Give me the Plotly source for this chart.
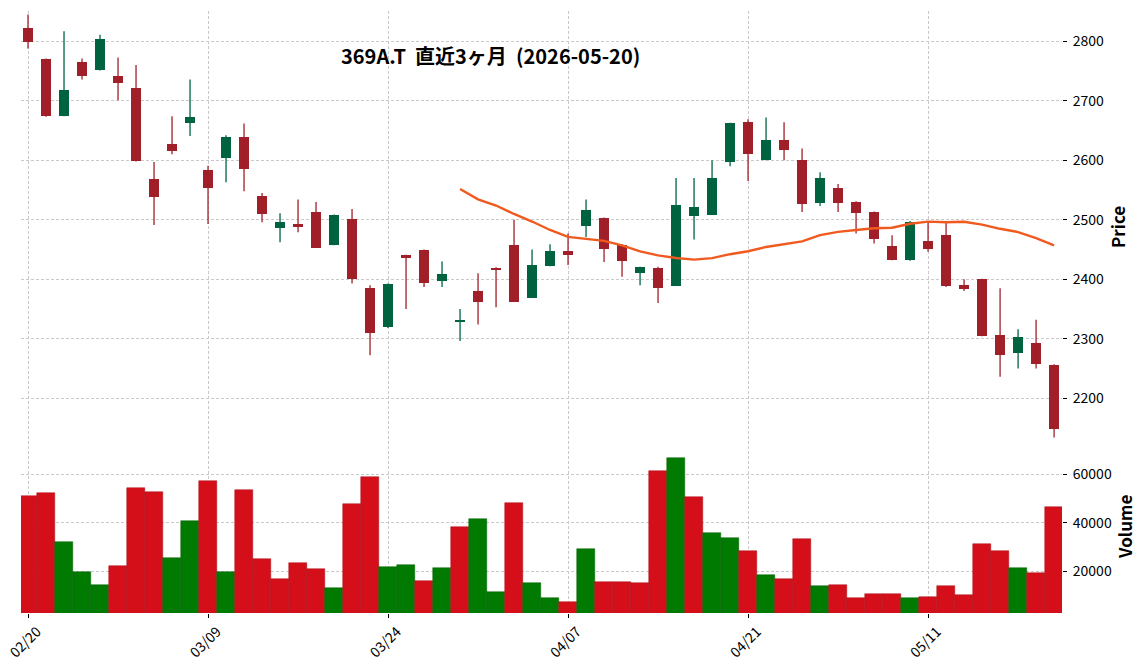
import plotly.graph_objects as go
import pandas as pd

dates = ["2026-02-20","2026-02-24","2026-02-25","2026-02-26","2026-02-27","2026-03-02","2026-03-03",
         "2026-03-04","2026-03-05","2026-03-06","2026-03-09","2026-03-10","2026-03-11","2026-03-12",
         "2026-03-13","2026-03-16","2026-03-17","2026-03-18","2026-03-19","2026-03-23","2026-03-24",
         "2026-03-25","2026-03-26","2026-03-27","2026-03-30","2026-03-31","2026-04-01","2026-04-02",
         "2026-04-03","2026-04-06","2026-04-07","2026-04-08","2026-04-09","2026-04-10","2026-04-13",
         "2026-04-14","2026-04-15","2026-04-16","2026-04-17","2026-04-20","2026-04-21","2026-04-22",
         "2026-04-23","2026-04-24","2026-04-27","2026-04-28","2026-04-30","2026-05-01","2026-05-07",
         "2026-05-08","2026-05-11","2026-05-12","2026-05-13","2026-05-14","2026-05-15","2026-05-18",
         "2026-05-19","2026-05-20"]

opens  = [2822,2770,2675,2765,2752,2742,2722,2569,2627,2663,2584,2604,2639,2540,2486,2493,2513,2458,
          2501,2385,2319,2440,2449,2397,2329,2380,2419,2458,2369,2423,2448,2490,2503,2458,2411,2419,
          2389,2507,2508,2597,2664,2600,2634,2600,2529,2553,2530,2513,2456,2432,2465,2474,2390,2400,
          2306,2276,2293,2256]
highs  = [2845,2771,2817,2771,2811,2773,2760,2597,2674,2736,2591,2642,2662,2545,2511,2534,2530,2509,
          2518,2390,2393,2441,2450,2430,2350,2410,2420,2500,2450,2459,2477,2534,2504,2459,2421,2421,
          2570,2570,2600,2663,2669,2672,2664,2620,2580,2560,2531,2514,2474,2498,2498,2497,2400,2401,
          2385,2316,2332,2257]
lows   = [2788,2673,2674,2736,2751,2701,2598,2491,2610,2641,2493,2563,2548,2496,2462,2479,2453,2457,
          2393,2272,2318,2350,2387,2387,2296,2324,2353,2362,2369,2422,2424,2471,2429,2404,2390,2360,
          2389,2467,2508,2590,2565,2600,2600,2513,2523,2513,2477,2460,2432,2431,2446,2387,2380,2304,
          2236,2250,2250,2134]
closes = [2799,2675,2718,2741,2804,2730,2599,2539,2616,2673,2554,2639,2586,2510,2496,2487,2453,2508,
          2401,2309,2392,2435,2393,2409,2329,2362,2416,2362,2424,2448,2440,2517,2451,2430,2421,2386,
          2525,2521,2570,2663,2611,2634,2618,2526,2570,2529,2512,2467,2432,2496,2451,2389,2383,2305,
          2273,2303,2258,2148]
volumes = [50960,52190,32050,19710,14370,22180,54250,52600,25470,40680,57120,19710,53420,25060,16840,
           23410,20950,13140,47670,58770,21770,22590,16010,21360,38210,41500,11490,48080,15190,9030,
           7380,29170,15600,15600,15190,61230,66580,50550,35750,33690,28350,18480,16840,33280,13960,
           14370,9030,10670,10670,9030,9440,13960,10260,31100,28220,21360,19300,46430]

title_text = "369A.T\u00a0\u00a0直近3ヶ月\u00a0\u00a0(2026-05-20)"
ma_window = 25

UP_C, DOWN_C = "#006340", "#A01F29"
VUP_C, VDOWN_C = "#017A01", "#D40F1A"
MA_C = "#F15A1F"
GRID_C = "#c9c9c9"
FONT = "Noto Sans CJK JP"

n = len(dates)
idx = list(range(n))
tick_pos = idx[::10]
tick_txt = [d[5:7] + "/" + d[8:10] for d in dates[::10]]

fig = go.Figure()

# wicks
for is_up, col in [(True, UP_C), (False, DOWN_C)]:
    wx, wy = [], []
    for i in idx:
        if (closes[i] >= opens[i]) == is_up:
            wx += [i, i, None]
            wy += [lows[i], highs[i], None]
    fig.add_trace(go.Scatter(x=wx, y=wy, mode="lines", line=dict(color=col, width=1.3),
                             xaxis="x", yaxis="y", showlegend=False, hoverinfo="skip"))

# bodies
body_base = [min(o, c) for o, c in zip(opens, closes)]
body_h = [max(abs(c - o), 1.6) for o, c in zip(opens, closes)]
body_col = [UP_C if c >= o else DOWN_C for o, c in zip(opens, closes)]
body_base = [b - (0.8 if abs(c - o) < 1.6 else 0) for b, o, c in zip(body_base, opens, closes)]
fig.add_trace(go.Bar(x=idx, y=body_h, base=body_base, width=0.6,
                     marker=dict(color=body_col, line=dict(width=0)),
                     xaxis="x", yaxis="y", showlegend=False))

# moving average
ma = pd.Series(closes).rolling(ma_window).mean()
fig.add_trace(go.Scatter(x=idx, y=ma, mode="lines", line=dict(color=MA_C, width=2.4),
                         xaxis="x", yaxis="y", showlegend=False, connectgaps=False))

# volume
vcol = [VDOWN_C] + [VUP_C if closes[i] >= closes[i - 1] else VDOWN_C for i in range(1, n)]
vedge = ["#A80C15" if c == VDOWN_C else "#015E01" for c in vcol]
fig.add_trace(go.Bar(x=idx, y=volumes, width=1.0,
                     marker=dict(color=vcol, line=dict(color=vedge, width=0.5)),
                     xaxis="x2", yaxis="y2", showlegend=False))

grid = dict(showgrid=True, gridcolor=GRID_C, gridwidth=0.8, griddash="3px,2px",
            zeroline=False, showline=False, automargin=False)
tickfont = dict(family=FONT, size=14, color="#000")

xr = [-0.39, 57.44]
fig.update_layout(
    width=1144, height=670,
    margin=dict(l=21, r=82, t=11, b=57),
    paper_bgcolor="white", plot_bgcolor="white",
    barmode="overlay", bargap=0,
    font=dict(family=FONT, color="#000"),
    xaxis=dict(domain=[0, 1], anchor="y", range=xr, tickvals=tick_pos, ticktext=tick_txt,
               showticklabels=False, ticks="", **grid),
    yaxis=dict(domain=[2/7, 1], anchor="x", side="right", range=[2128, 2851],
               tickvals=[2200, 2300, 2400, 2500, 2600, 2700, 2800],
               ticks="outside", ticklen=4, tickwidth=1.3, tickcolor="#000",
               ticklabelstandoff=3, tickfont=tickfont, **grid),
    xaxis2=dict(domain=[0, 1], anchor="y2", range=xr, matches="x",
                tickvals=tick_pos, ticktext=tick_txt, tickangle=-45,
                ticks="outside", ticklen=4, tickwidth=1.3, tickcolor="#000",
                ticklabelshift=9, tickfont=tickfont, **grid),
    yaxis2=dict(domain=[0, 2/7], anchor="x2", side="right", range=[2980, 73560],
                tickvals=[20000, 40000, 60000], tickformat="d",
                ticks="outside", ticklen=4, tickwidth=1.3, tickcolor="#000",
                ticklabelstandoff=3, tickfont=tickfont, **grid),
    annotations=[
        dict(text=title_text, x=(490 - 21) / 1041, y=(613 - 55) / 602, xref="paper", yref="paper",
             xanchor="center", yanchor="middle", showarrow=False,
             font=dict(family=FONT, size=20, color="#000", weight="bold")),
        dict(text="Price", x=(1117 - 21) / 1041, y=(613 - 227) / 602, xref="paper", yref="paper",
             xanchor="center", yanchor="middle", textangle=-90, showarrow=False,
             font=dict(family=FONT, size=17, color="#000", weight="bold")),
        dict(text="Volume", x=(1124 - 21) / 1041, y=(613 - 527) / 602, xref="paper", yref="paper",
             xanchor="center", yanchor="middle", textangle=-90, showarrow=False,
             font=dict(family=FONT, size=17, color="#000", weight="bold")),
    ],
)

fig.write_html("out.html")
